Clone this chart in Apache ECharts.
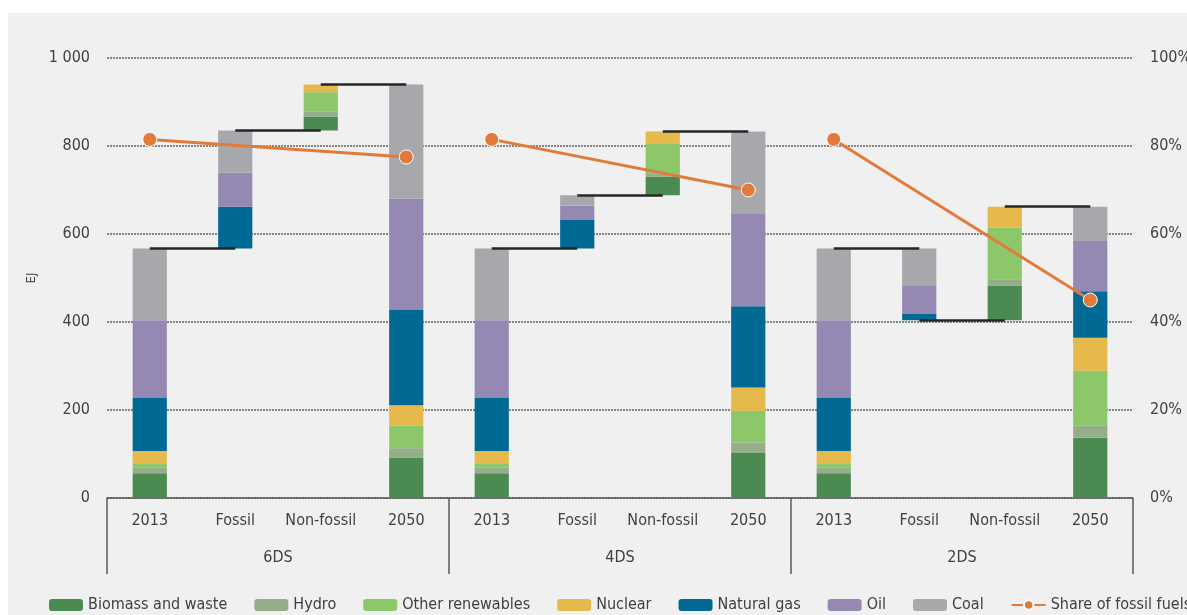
<!DOCTYPE html>
<html>
<head>
<meta charset="utf-8">
<script src="https://cdn.jsdelivr.net/npm/echarts@6/dist/echarts.min.js"></script>
<style>
  html, body { margin: 0; padding: 0; background: #ffffff; width: 1187px; height: 615px; overflow: hidden; }
  #c { position: absolute; left: 8px; top: 13px; width: 1179px; height: 602px; background: #f0f0f0; }
</style>
</head>
<body>
<div id="c"></div>
<script>
// ---- Data (EJ); change columns hold signed changes ----
const categories = ['2013', 'Fossil', 'Non-fossil', '2050',
                    '2013', 'Fossil', 'Non-fossil', '2050',
                    '2013', 'Fossil', 'Non-fossil', '2050'];
const scenarios = ['6DS', '4DS', '2DS'];

const biomass  = [56, 0, 32, 92,   56, 0, 42, 102,   56, 0, 79, 137];
const hydro    = [13, 0, 11, 21,   13, 0, 8, 24,     13, 0, 14, 27];
const otherRen = [8, 0, 44, 51,    8, 0, 68, 72,     8, 0, 118, 125];
const nuclear  = [30, 0, 18, 47,   30, 0, 27, 53,    30, 0, 47, 75];
const gas      = [120, 95, 0, 216, 120, 65, 0, 185,  120, -14, 0, 106];
const oil      = [177, 77, 0, 253, 177, 32, 0, 211,  177, -64, 0, 114];
const coal     = [163, 96, 0, 260, 163, 24, 0, 186,  163, -85, 0, 78];

// share of fossil fuels (%), only at 2013 and 2050 columns
const shareFossil = [81.5, null, null, 77.5,  81.5, null, null, 70,  81.5, null, null, 45];

const yTicks = ['0', '200', '400', '600', '800', '1 000'];

const fuelNames = ['Biomass and waste', 'Hydro', 'Other renewables', 'Nuclear', 'Natural gas', 'Oil', 'Coal'];
const fuelColors = ['#4b8a50', '#94ae8b', '#8cc76a', '#e6b94c', '#006994', '#9589b4', '#a7a8ab'];
const fuels = [biomass, hydro, otherRen, nuclear, gas, oil, coal];

// ---- Waterfall bases and connector levels ----
const base = new Array(categories.length).fill(0);
const connectors = [];
for (let g = 0; g < scenarios.length; g++) {
  const i0 = g * 4;
  let level = fuels.reduce((s, f) => s + f[i0], 0);
  for (let j = 1; j <= 2; j++) {
    const idx = i0 + j;
    const neg = fuels.reduce((s, f) => s + Math.min(0, f[idx]), 0);
    const tot = fuels.reduce((s, f) => s + f[idx], 0);
    base[idx] = level + neg;
    connectors.push([{ coord: [idx - 1, level] }, { coord: [idx, level] }]);
    level += tot;
  }
  connectors.push([{ coord: [i0 + 2, level] }, { coord: [i0 + 3, level] }]);
}

const FONT = '"DejaVu Sans Condensed", "Open Sans", sans-serif';
const TXT = '#404040';
const AX = 16;

const series = [{
  name: 'base', type: 'bar', stack: 'w', barWidth: '40%', silent: true,
  itemStyle: { color: 'transparent' },
  data: base,
  markLine: {
    silent: true, symbol: ['none', 'none'],
    label: { show: false },
    lineStyle: { color: '#262626', width: 2.5, type: 'solid' },
    data: connectors
  }
}];
fuels.forEach((f, k) => {
  series.push({
    name: fuelNames[k], type: 'bar', stack: 'w', barWidth: '40%',
    itemStyle: { color: fuelColors[k] },
    data: f.map(v => v === 0 ? '-' : Math.abs(v))
  });
});
for (let g = 0; g < scenarios.length; g++) {
  series.push({
    name: 'Share of fossil fuels', type: 'line', yAxisIndex: 1, z: 5,
    connectNulls: true, symbol: 'circle', symbolSize: 14,
    lineStyle: { color: '#e07b3c', width: 3 },
    itemStyle: { color: '#e07b3c', borderColor: '#ffffff', borderWidth: 1 },
    data: shareFossil.map((v, i) => Math.floor(i / 4) === g ? v : null)
  });
}

const chart = echarts.init(document.getElementById('c'));
chart.setOption({
  backgroundColor: '#f0f0f0',
  animation: false,
  textStyle: { fontFamily: FONT, color: TXT },
  grid: { left: 99, right: 54, top: 45, bottom: 117, outerBoundsMode: 'none', containLabel: false },
  legend: {
    left: 36, top: 579, width: 1400, itemWidth: 34, itemHeight: 12, itemGap: 27,
    textStyle: { fontFamily: FONT, fontSize: 16, color: TXT },
    data: fuelNames.concat(['Share of fossil fuels'])
  },
  xAxis: [{
    type: 'category', data: categories,
    axisLine: { show: true, lineStyle: { color: '#595959', width: 1.5 } },
    axisTick: { show: false },
    axisLabel: { fontFamily: FONT, fontSize: AX, color: TXT, margin: 15, interval: 0 }
  }, {
    type: 'category', data: scenarios, position: 'bottom',
    axisLine: { show: false },
    axisTick: { show: true, length: 76, lineStyle: { color: '#595959', width: 1.5 } },
    axisLabel: { fontFamily: FONT, fontSize: AX, color: TXT, margin: 52 }
  }],
  yAxis: [{
    type: 'value', min: 0, max: 1000, interval: 200,
    name: 'EJ', nameLocation: 'middle', nameGap: 64, nameRotate: 90,
    nameTextStyle: { fontFamily: FONT, fontSize: 13, color: TXT },
    axisLine: { show: false }, axisTick: { show: false },
    axisLabel: { fontFamily: FONT, fontSize: AX, color: TXT, margin: 17,
                 formatter: (v) => yTicks[Math.round(v / 200)] },
    splitLine: { lineStyle: { color: '#606060', type: [2, 1], width: 1.5 } }
  }, {
    type: 'value', min: 0, max: 100, interval: 20,
    axisLine: { show: false }, axisTick: { show: false },
    axisLabel: { fontFamily: FONT, fontSize: AX, color: TXT, margin: 17, formatter: '{value}%' },
    splitLine: { show: false }
  }],
  series: series
});
</script>
</body>
</html>
